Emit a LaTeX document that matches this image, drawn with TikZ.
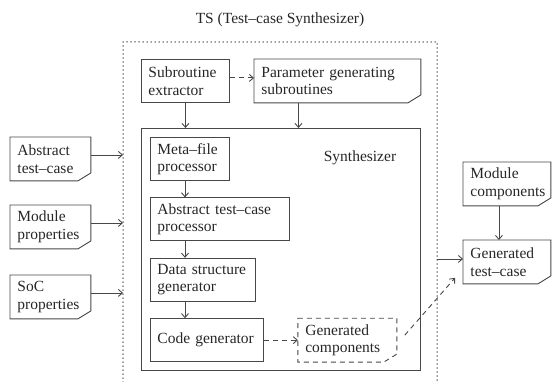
\documentclass[tikz,border=0pt]{standalone}
\usepackage{fontspec}
\setmainfont{Liberation Serif}
\usetikzlibrary{positioning,arrows.meta}
\hyphenpenalty=10000
\exhyphenpenalty=10000

\colorlet{linec}{black!72}
% outline of a document shape: cut corner at the bottom right
\newcommand{\docoutline}[2][]{%
  \draw[draw=linec, line width=0.9pt, #1] (#2.north west) -- (#2.north east)
    -- ([yshift=8pt]#2.south east) -- ([xshift=-13pt]#2.south east)
    -- (#2.south west) -- cycle;}

\begin{document}
\begin{tikzpicture}[x=1pt, y=-1pt,
    font=\fontsize{15.5}{17.5}\selectfont, text=black!85,
    box/.style={draw=linec, line width=0.9pt, align=left, anchor=north west,
        inner xsep=7pt, minimum height=43pt},
    doc/.style={box, draw=none},
    flow/.style={->, draw=linec, line width=0.9pt},
    dflow/.style={flow, dash pattern=on 5pt off 4pt},
    >={Straight Barb[length=4pt,width=7pt]}
]
\useasboundingbox (0,0) rectangle (553,382);

% TS boundary
\coordinate (TsTL) at (123,42);
\coordinate (TsTR) at (437,42);
\coordinate (TsBL) at (123,382);
\coordinate (TsBR) at (437,382);
\draw[draw=black!80, line width=1.5pt, line cap=round, dash pattern=on 0pt off 4pt]
    (TsBL) -- (TsTL) -- (TsTR) -- (TsBR);
\node (Title) at (280,20) {TS (Test--case Synthesizer)};

% subroutines
\node [box, text width=74pt] (SubEx) at (141,59) {Subroutine\\extractor};
\node [doc, text width=152pt] (ParGen) at (254,59) {Parameter~generating\\subroutines};
\docoutline{ParGen}

% synthesizer
\node [box, minimum width=279pt, minimum height=242pt] (Synth) at (141,128) {};
\node (SynLabel) at (360,158) {Synthesizer};
\node [box, text width=65pt] (Meta) at (150,137) {Meta--file\\processor};
\node [box, text width=125pt, below=16.5pt of Meta.south west, anchor=north west] (AbsProc)
    {Abstract~test--case\\processor};
\node [box, text width=91pt, below=16.5pt of AbsProc.south west, anchor=north west] (DataGen)
    {Data~structure\\generator};
\node [box, text width=99pt, below=16.5pt of DataGen.south west, anchor=north west] (CodeGen)
    {Code~generator};
\node [doc, text width=84pt, right=34pt of CodeGen, anchor=west] (GenComp)
    {Generated\\components};
\docoutline[dash pattern=on 5pt off 4pt]{GenComp}

% inputs
\node [doc, text width=66pt] (AbsTC) at (10,137) {Abstract\\test--case};
\node [doc, text width=66pt] (ModProp) at (10,205) {Module\\properties};
\node [doc, text width=66pt] (SocProp) at (10,275) {SoC\\properties};
\docoutline{AbsTC}
\docoutline{ModProp}
\docoutline{SocProp}

% outputs
\node [doc, text width=73pt] (ModComp) at (463,162) {Module\\components};
\node [doc, text width=73pt] (GenTC) at (463,240) {Generated\\test--case};
\docoutline{ModComp}
\docoutline{GenTC}

% connectors
\draw[dflow] ([yshift=3pt]SubEx.east) -- ([yshift=3pt]ParGen.west);
\draw[flow] (SubEx.south) -- (SubEx.south |- Synth.north);
\draw[flow] ([xshift=-39pt]ParGen.south) -- ([xshift=-39pt]ParGen.south |- Synth.north);
\draw[flow] ([xshift=35pt]Meta.south west) -- ([xshift=35pt]AbsProc.north west);
\draw[flow] ([xshift=35pt]AbsProc.south west) -- ([xshift=35pt]DataGen.north west);
\draw[flow] ([xshift=35pt]DataGen.south west) -- ([xshift=35pt]CodeGen.north west);
\draw[dflow] (CodeGen.east) -- (GenComp.west);
\coordinate (DashEnd) at ([xshift=-8pt,yshift=6pt]GenTC.south west);
\draw[dflow] ([xshift=8pt,yshift=5pt]GenComp.east) -- (DashEnd);

\draw[flow] ([yshift=4pt]AbsTC.east) -- ([yshift=4pt]AbsTC.east -| TsTL);
\draw[flow] ([yshift=4pt]ModProp.east) -- ([yshift=4pt]ModProp.east -| TsTL);
\draw[flow] ([yshift=4pt]SocProp.east) -- ([yshift=4pt]SocProp.east -| TsTL);

\draw[flow] ([xshift=-8pt]ModComp.south) -- ([xshift=-8pt]GenTC.north);
\draw[flow] ([yshift=3pt]GenTC.west -| TsTR) -- ([yshift=3pt]GenTC.west);

\end{tikzpicture}
\end{document}
